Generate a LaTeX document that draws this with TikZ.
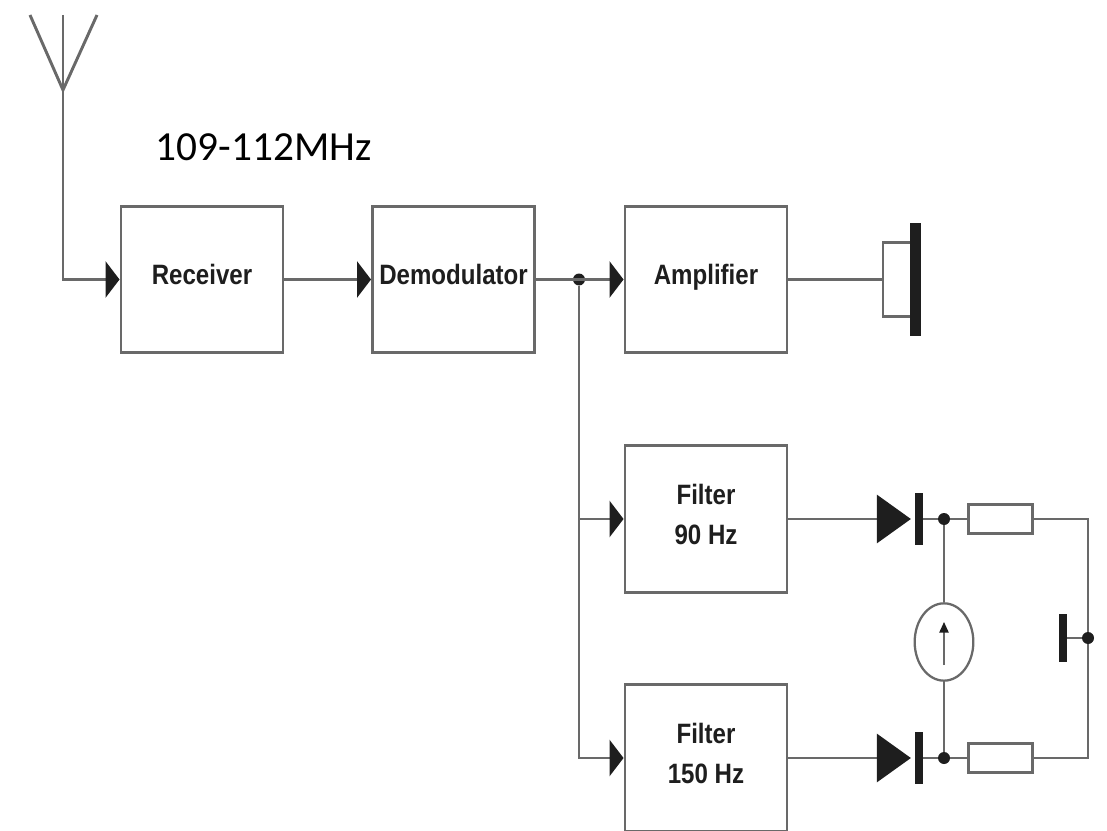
\documentclass[tikz,border=0pt]{standalone}
\usepackage{fontspec}
\setmainfont{Carlito}
\newfontfamily\blockfont[FakeStretch=0.86]{Liberation Sans Bold}
\usetikzlibrary{arrows.meta, shapes.geometric, positioning, calc}
\definecolor{wiregray}{RGB}{105,105,105}
\definecolor{inkdark}{RGB}{30,30,30}
\tikzset{
	wire/.style={draw=wiregray,line width=2.2pt},
	feed/.style={wire,-{Triangle[length=10.5pt,width=27pt,fill=inkdark,color=inkdark]}},
	diodefeed/.style={wire,-{Triangle[length=25.5pt,width=36pt,fill=inkdark,color=inkdark]},shorten >=2.5pt},
	block/.style={wire,rectangle,fill=white,minimum width=121.5pt,minimum height=110pt,inner sep=0pt,
		align=center,text=inkdark,text depth=7pt,font=\blockfont\fontsize{21}{30}\selectfont},
	junction/.style={circle,fill=inkdark,minimum size=9pt,inner sep=0pt},
	plate/.style={rectangle,fill=inkdark,inner sep=0pt},
	resistor/.style={wire,rectangle,fill=white,minimum width=48pt,minimum height=22pt,inner sep=0pt}
}
\begin{document}
\begin{tikzpicture}[x=0.75pt,y=-0.75pt]
	\useasboundingbox (0,0) rectangle (1107,831);
	\node[font=\fontsize{31}{36}\selectfont,text=black,inner sep=0pt] (band) at (263.5,147) {109-112MHz};

	\node[block] (receiver) at (202,279.5) {Receiver};
	\node[block] (demod) at (453.5,279.5) {Demodulator};
	\node[block] (amp) at (706,279.5) {Amplifier};
	\node[block] (filtA) at (706,519) {Filter\\90 Hz};
	\node[block] (filtB) at (706,758) {Filter\\150 Hz};

	\coordinate (antL) at (30,15);
	\coordinate (antM) at (63,15);
	\coordinate (antR) at (97,15);
	\coordinate (antTip) at (63,90);
	\draw[wire] (antL) -- (antTip) -- (antR);
	\draw[wire] (antM) -- (antTip);
	\draw[feed] (antTip) |- (receiver);
	\draw[feed] (receiver) -- (demod);

	\node[junction] (split) at (579,279.5) {};
	\draw[feed] (demod) -- (amp);
	\draw[feed] (split) |- (filtA);
	\draw[feed] (split) |- (filtB);

	\node[wire,rectangle,minimum width=24pt,minimum height=56pt,inner sep=0pt] (coneBox) at (899,279.5) {};
	\node[plate,minimum width=8pt,minimum height=84pt] (coneBar) at (915.5,279.5) {};
	\draw[wire] (amp) -- (coneBox);

	\node[plate,minimum width=6pt,minimum height=39pt] (barA) at (918.5,519) {};
	\node[plate,minimum width=6pt,minimum height=39pt] (barB) at (918.5,758) {};
	\node[junction] (dotA) at (944,519) {};
	\node[junction] (dotB) at (944,758) {};
	\node[resistor] (resA) at (1000.5,519) {};
	\node[resistor] (resB) at (1000.5,758) {};
	\draw[diodefeed] (filtA) -- (barA);
	\draw[diodefeed] (filtB) -- (barB);
	\draw[wire] (barA) -- (dotA) -- (resA);
	\draw[wire] (barB) -- (dotB) -- (resB);

	\node[draw=wiregray,line width=1.7pt,ellipse,fill=white,minimum width=44pt,minimum height=58pt,inner sep=0pt] (meter) at (944,642) {};
	\draw[wire] (dotA) -- (meter);
	\draw[wire] (dotB) -- (meter);
	\coordinate (needleA) at (944,665);
	\coordinate (needleB) at (944,622);
	\draw[draw=wiregray,line width=1.2pt,-{Triangle[length=8pt,width=7pt,fill=inkdark,color=inkdark]}] (needleA) -- (needleB);

	\coordinate (cornerA) at (1088,519);
	\coordinate (cornerB) at (1088,758);
	\draw[wire] (resA) -- (cornerA) -- (cornerB) -- (resB);
	\node[junction] (dotOut) at (1088,638) {};
	\node[plate,minimum width=5.5pt,minimum height=36pt] (outBar) at (1063,638) {};
	\draw[wire] (dotOut) -- (outBar);
\end{tikzpicture}
\end{document}
